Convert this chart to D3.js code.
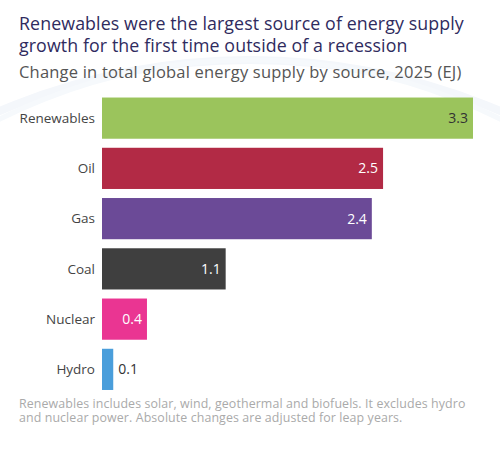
<!DOCTYPE html>
<html><head><meta charset="utf-8">
<script src="https://cdn.jsdelivr.net/npm/d3@7"></script>
<style>body{margin:0;background:#fff;font-family:"Open Sans",sans-serif}</style>
</head><body><svg id="c" width="500" height="449"></svg>
<script>
const sources = ["Renewables", "Oil", "Gas", "Coal", "Nuclear", "Hydro"];
const values = [3.3, 2.5, 2.4, 1.1, 0.4, 0.1];
const colors = ["#9bc45c", "#b22a45", "#6b4a97", "#3f3f3f", "#ea3592", "#4a9edb"];

const svg = d3.select("#c");
// faint background arcs
svg.append("circle").attr("cx", 250).attr("cy", 700).attr("r", 640)
  .attr("fill", "none").attr("stroke", "#f4f7fb").attr("stroke-width", 8);
svg.append("circle").attr("cx", 250).attr("cy", 620).attr("r", 560)
  .attr("fill", "none").attr("stroke", "#f6f9fc").attr("stroke-width", 5);

svg.append("text").attr("x", 19).attr("y", 30).attr("fill", "#2f2b5e").attr("font-size", 17.8)
  .attr("letter-spacing", 0.1).text("Renewables were the largest source of energy supply");
svg.append("text").attr("x", 19).attr("y", 52).attr("fill", "#2f2b5e").attr("font-size", 17.8)
  .attr("letter-spacing", 0.1).text("growth for the first time outside of a recession");
svg.append("text").attr("x", 19).attr("y", 78).attr("fill", "#555").attr("font-size", 16.5)
  .attr("letter-spacing", 0.2).text("Change in total global energy supply by source, 2025 (EJ)");

const x = d3.scaleLinear().domain([0, 3.3]).range([102, 473]);
const y = d3.scaleBand().domain(sources).range([92.5, 395]).paddingInner(0.18).paddingOuter(0.1);

const g = svg.append("g");
sources.forEach((s, i) => {
  g.append("rect").attr("x", x(0)).attr("y", y(s)).attr("width", x(values[i]) - x(0))
    .attr("height", y.bandwidth()).attr("fill", colors[i]);
  g.append("text").attr("x", x(0) - 7).attr("y", y(s) + y.bandwidth() / 2).attr("dy", "0.35em")
    .attr("text-anchor", "end").attr("font-size", 13.5).attr("fill", "#444").text(s);
  const inside = values[i] > 0.2;
  g.append("text")
    .attr("x", inside ? x(values[i]) - 5 : x(values[i]) + 5)
    .attr("y", y(s) + y.bandwidth() / 2).attr("dy", "0.35em")
    .attr("text-anchor", inside ? "end" : "start").attr("font-size", 14)
    .attr("fill", i === 0 || !inside ? "#333" : "#fff").text(values[i]);
});

svg.append("text").attr("x", 19).attr("y", 408).attr("fill", "#aaa").attr("font-size", 12.4)
  .attr("letter-spacing", 0.1).text("Renewables includes solar, wind, geothermal and biofuels. It excludes hydro");
svg.append("text").attr("x", 19).attr("y", 422).attr("fill", "#aaa").attr("font-size", 12.4)
  .attr("letter-spacing", 0.1).text("and nuclear power. Absolute changes are adjusted for leap years.");
</script></body></html>
